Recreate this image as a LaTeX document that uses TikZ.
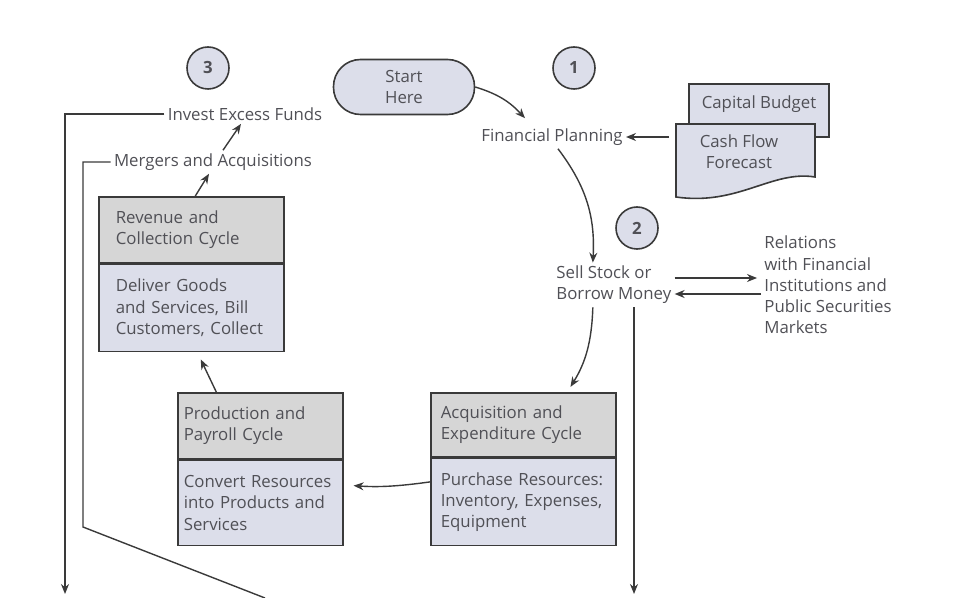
\documentclass[tikz,border=0pt]{standalone}
\usepackage{fontspec}
\setmainfont{Open Sans}
\usepackage{xcolor}
\usepackage{tikz}
\usetikzlibrary{positioning, arrows.meta}

\definecolor{lav}{RGB}{220,222,234}
\definecolor{hdgray}{RGB}{214,214,214}
\definecolor{linegray}{RGB}{58,58,58}
\definecolor{txtgray}{RGB}{80,80,86}
\newcommand{\dgsize}{\fontsize{8.4}{10.6}\selectfont}

\begin{document}
\begin{tikzpicture}[
        x=0.5pt, y=-0.5pt,
        lbl/.style={font=\dgsize, text=txtgray, inner sep=1.5pt},
        numcirc/.style={
            circle, draw=linegray, line width=0.8pt, fill=lav,
            minimum size=21pt, inner sep=0pt,
            font=\dgsize\bfseries, text=txtgray
        },
        headbox/.style={
            draw=linegray, line width=0.8pt, fill=hdgray,
            font=\dgsize, text=txtgray, align=left,
            inner xsep=5pt, inner ysep=0pt
        },
        bodybox/.style={
            draw=linegray, line width=0.8pt, fill=lav,
            font=\dgsize, text=txtgray, align=left,
            inner xsep=5pt, inner ysep=0pt
        },
        arr/.style={-{Stealth[length=5pt, width=4pt]}, line width=0.7pt, draw=linegray},
        plain/.style={line width=0.7pt, draw=linegray}
    ]
        \useasboundingbox (0,0) rectangle (956,598);

        % numbered steps
        \node[numcirc] (stepThree) at (208,68) {3};
        \node[numcirc] (stepOne) at (574,68) {1};
        \node[numcirc] (stepTwo) at (637,228) {2};

        \node[draw=linegray, line width=0.8pt, fill=lav, rounded corners=13.5pt,
              minimum width=70.5pt, minimum height=27.5pt, inner sep=0pt,
              align=center, font=\dgsize, text=txtgray] (start) at (404,87) {Start\\Here};

        \node[lbl] (fin) at (552,137) {Financial Planning};

        % documents
        \node[draw=linegray, line width=0.8pt, fill=lav, minimum width=70pt,
              minimum height=26.5pt, text depth=8pt, inner sep=0pt,
              font=\dgsize, text=txtgray] (capital) at (759,110.5) {Capital Budget};
        \filldraw[draw=linegray, line width=0.8pt, fill=lav]
            (676,124) -- (815,124) -- (815,177)
            .. controls (772,170) and (738,206) .. (676,197) -- cycle;
        \node[minimum width=69.5pt, inner sep=0pt, align=center,
              font=\dgsize, text=txtgray] (cash) at (739,152) {Cash Flow\\Forecast};

        \node[lbl, align=left, anchor=west] (sell) at (553,285) {Sell Stock or\\Borrow Money};
        \node[lbl, align=left, anchor=west] (rel) at (761,285)
            {Relations\\with Financial\\Institutions and\\Public Securities\\Markets};

        \node[lbl] (invest) at (245,114) {Invest Excess Funds};
        \node[lbl] (merge) at (213,162) {Mergers and Acquisitions};

        % cycles
        \node[headbox, anchor=north west, text width=75.5pt, inner xsep=8.5pt,
              minimum height=33pt] (revHead) at (98,196)
            {Revenue and\\Collection Cycle};
        \node[bodybox, below=0pt of revHead, text width=75.5pt, inner xsep=8.5pt,
              minimum height=43.5pt] (revBody)
            {Deliver Goods\\and Services, Bill\\Customers, Collect};

        \node[headbox, anchor=north west, text width=76.5pt, inner xsep=3pt,
              minimum height=33pt] (prodHead) at (177,392)
            {Production and\\Payroll Cycle};
        \node[bodybox, below=0pt of prodHead, text width=76.5pt, inner xsep=3pt,
              minimum height=42.5pt] (prodBody)
            {Convert Resources\\into Products and\\Services};

        \node[headbox, anchor=north west, text width=82.5pt,
              minimum height=32pt] (acqHead) at (430,392)
            {Acquisition and\\Expenditure Cycle};
        \node[bodybox, below=0pt of acqHead, text width=82.5pt,
              minimum height=43.5pt] (acqBody)
            {Purchase Resources:\\Inventory, Expenses,\\Equipment};

        \coordinate (outTwo) at (634,594);
        \coordinate (outThree) at (65,594);
        \coordinate (mgCorner) at (83,527);
        \coordinate (mgEnd) at (265,598);

        \draw[arr] (start.east) to[bend left=15] ([xshift=-13.5pt, yshift=3.5pt]fin.north);
        \draw[arr] (cash.west |- fin.east) -- (fin.east);
        \draw[arr] ([xshift=3pt]fin.south) to[bend left=20] ([xshift=-10.5pt]sell.north);
        \draw[arr, shorten >=2pt] ([yshift=3.5pt]sell.east) -- ([yshift=3.5pt]rel.west);
        \draw[arr] ([yshift=-4.5pt]rel.west) -- ([yshift=-4.5pt]sell.east);
        \draw[arr] (sell.south -| outTwo) -- (outTwo);
        \draw[arr, shorten >=3pt] ([xshift=-10.5pt]sell.south) to[bend left=15] ([xshift=22pt]acqHead.north);
        \draw[arr, shorten >=5pt] ([yshift=10pt]acqBody.west) to[bend left=6] ([yshift=9pt]prodBody.east);
        \draw[arr, shorten >=4pt] ([xshift=-22pt]prodHead.north) -- ([xshift=3pt]revBody.south);
        \draw[arr] ([xshift=2pt]revHead.north) -- ([xshift=-2pt]merge.south);
        \draw[arr] ([xshift=5pt]merge.north) -- ([xshift=-2pt]invest.south);
        \draw[arr] (invest.west) -| (outThree);
        \draw[plain] (merge.west) -| (mgCorner) -- (mgEnd);

    \end{tikzpicture}
\end{document}
